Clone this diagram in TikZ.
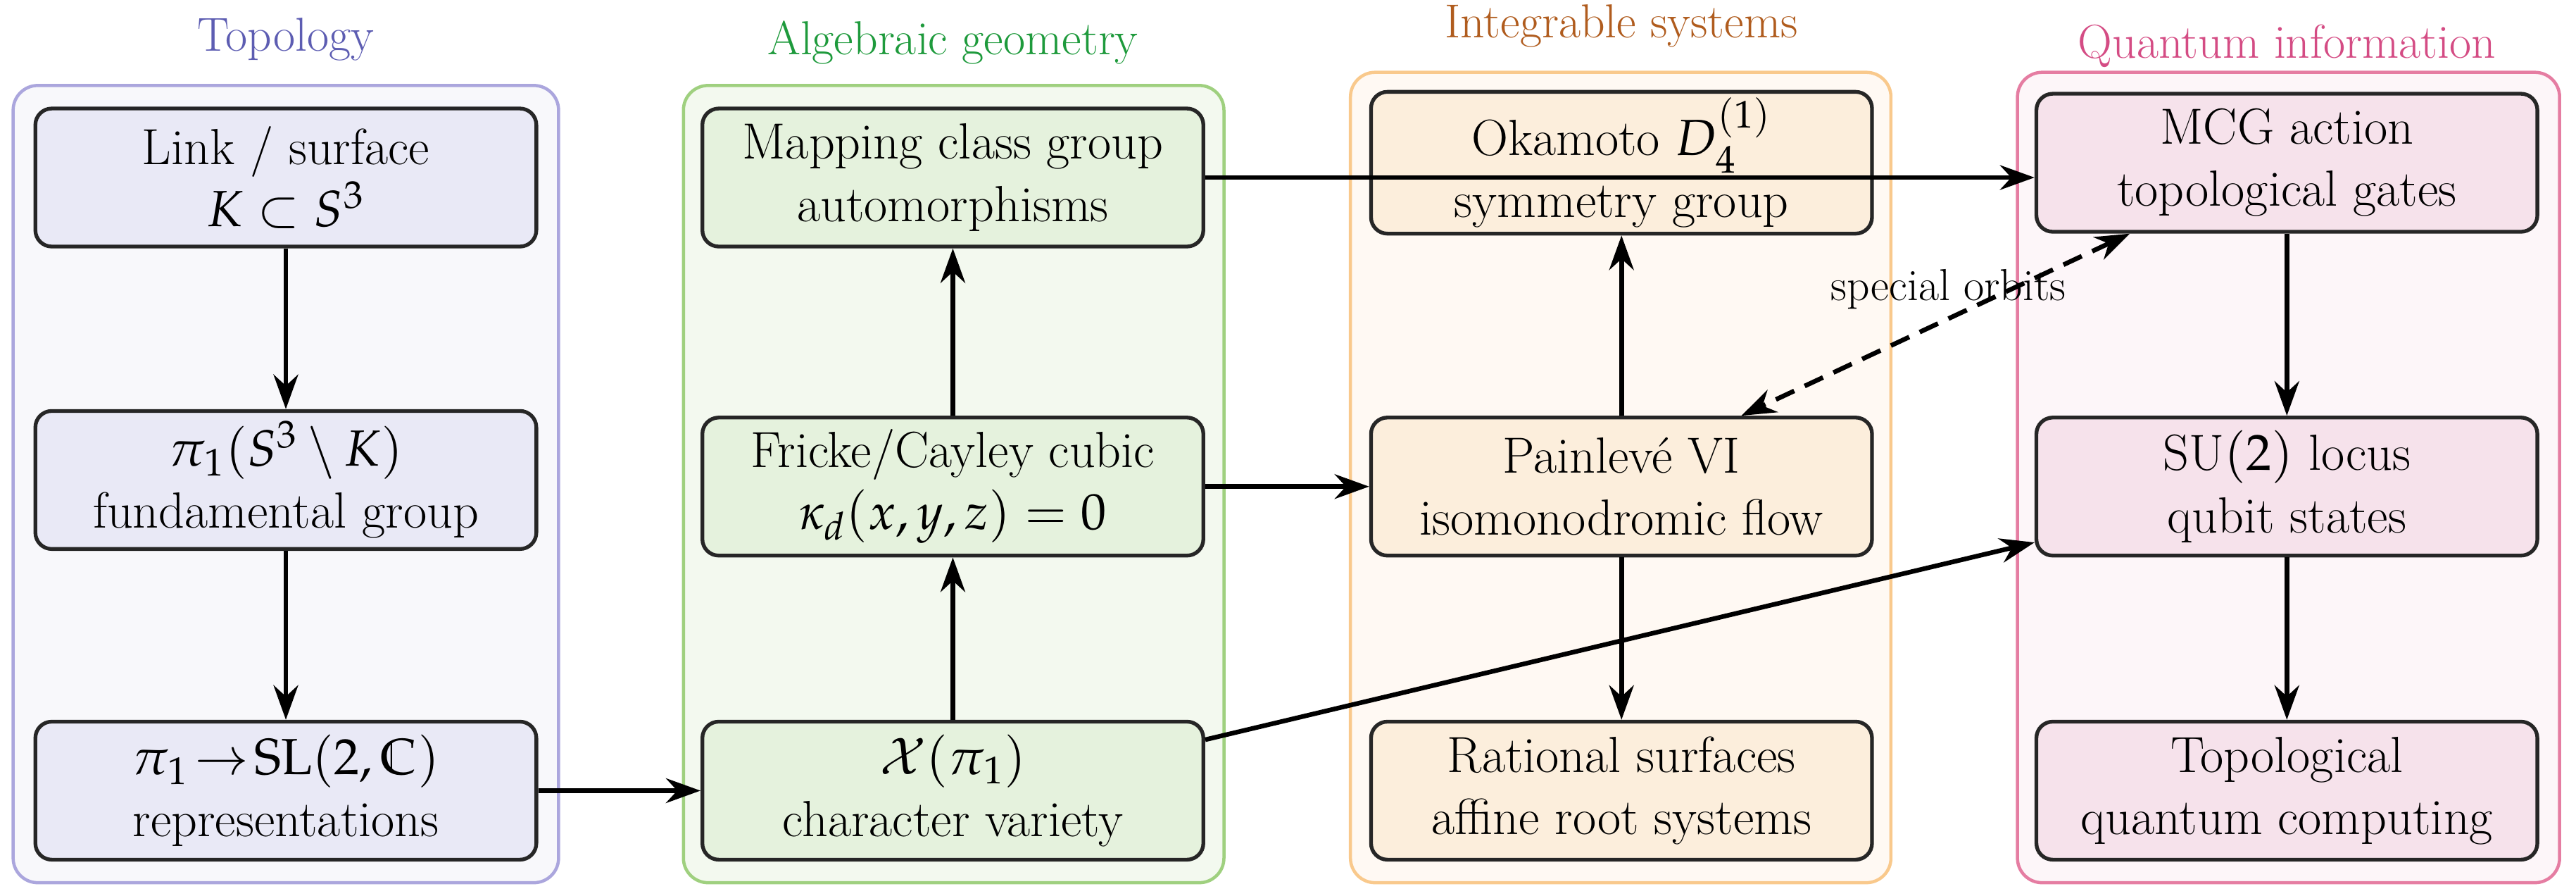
\documentclass[tikz,border=0pt]{standalone}
\usepackage{amsmath,amssymb}
\usepackage{mathpazo}
\usetikzlibrary{arrows.meta,calc}
\definecolor{tB}{HTML}{ABA6DD}\definecolor{tF}{HTML}{F8F8FB}\definecolor{tN}{HTML}{E9E9F6}\definecolor{tL}{HTML}{5D5DB2}
\definecolor{aB}{HTML}{9FD07F}\definecolor{aF}{HTML}{F3F9EF}\definecolor{aN}{HTML}{E5F2DD}\definecolor{aL}{HTML}{1E9A3C}
\definecolor{iB}{HTML}{F9C98C}\definecolor{iF}{HTML}{FFF9F3}\definecolor{iN}{HTML}{FCEEDC}\definecolor{iL}{HTML}{B05C1E}
\definecolor{qB}{HTML}{E57DA2}\definecolor{qF}{HTML}{FDF6F9}\definecolor{qN}{HTML}{F6E2EB}\definecolor{qL}{HTML}{D44C84}
\begin{document}
\begin{tikzpicture}[x=0.02cm,y=-0.02cm,
  font=\fontsize{17.6}{21.5}\selectfont,
  grp/.style={draw=#1,line width=1.1pt,rounded corners=0.3cm},
  box/.style={draw=black!85,line width=1.3pt,rounded corners=0.2cm,fill=#1,minimum width=6.1cm,minimum height=1.68cm,align=center,inner sep=2pt},
  arr/.style={line width=1.6pt,-{Stealth[length=0.42cm,width=0.3cm]}},
  ttl/.style={font=\fontsize{16.5}{20}\selectfont,text=#1}]
\useasboundingbox (0,0) rectangle (1568,545);
\draw[grp=tB,fill=tF] (8,52) rectangle (340,537);
\draw[grp=aB,fill=aF] (416,52) rectangle (745,537);
\draw[grp=iB,fill=iF] (822,44) rectangle (1151,537);
\draw[grp=qB,fill=qF] (1228,44) rectangle (1558,537);
\node[ttl=tL] (tt) at (174,24) {Topology};
\node[ttl=aL] (at) at (580,26) {Algebraic geometry};
\node[ttl=iL] (it) at (987,16) {Integrable systems};
\node[ttl=qL] (qt) at (1392,28) {Quantum information};
\node[box=tN] (n1) at (174,108) {Link / surface\\$K\subset S^3$};
\node[box=tN] (n2) at (174,292) {$\pi_1(S^3\setminus K)$\\fundamental group};
\node[box=tN] (n3) at (174,481) {$\pi_1\!\to\!\mathrm{SL}(2,\mathbb{C})$\\representations};
\node[box=aN] (a1) at (580,108) {Mapping class group\\automorphisms};
\node[box=aN] (a2) at (580,296) {Fricke/Cayley cubic\\$\kappa_d(x,y,z)=0$};
\node[box=aN] (a3) at (580,481) {$\mathcal{X}(\pi_1)$\\character variety};
\node[box=iN] (i1) at (987,99) {Okamoto $D_4^{(1)}$\\symmetry group};
\node[box=iN] (i2) at (987,296) {Painlev\'e VI\\isomonodromic flow};
\node[box=iN] (i3) at (987,481) {Rational surfaces\\affine root systems};
\node[box=qN] (q1) at (1392,99) {MCG action\\topological gates};
\node[box=qN] (q2) at (1392,296) {SU$(2)$ locus\\qubit states};
\node[box=qN] (q3) at (1392,481) {Topological\\quantum computing};
\draw[arr] (n1) -- (n2);
\draw[arr] (n2) -- (n3);
\draw[arr] (n3) -- (a3);
\draw[arr] (a3) -- (a2);
\draw[arr] (a2) -- (a1);
\draw[arr] (a1.east) -- (a1.east -| q1.west);
\draw[arr] (a2) -- (i2);
\draw[arr] (i2) -- (i1);
\draw[arr] (i2) -- (i3);
\draw[arr] (q1) -- (q2);
\draw[arr] (q2) -- (q3);
\draw[arr] ($(a3.east)+(0,-31)$) -- ($(q2.west)+(0,34)$);
\draw[line width=1.6pt,dash pattern=on 7pt off 4pt,{Stealth[length=0.42cm,width=0.3cm]}-{Stealth[length=0.42cm,width=0.3cm]}] ($(q1.south west)+(58,0)$) -- ($(i2.north)+(73,0)$);
\node[font=\fontsize{15.5}{18}\selectfont] (so) at (1186,176) {special orbits};
\end{tikzpicture}
\end{document}
